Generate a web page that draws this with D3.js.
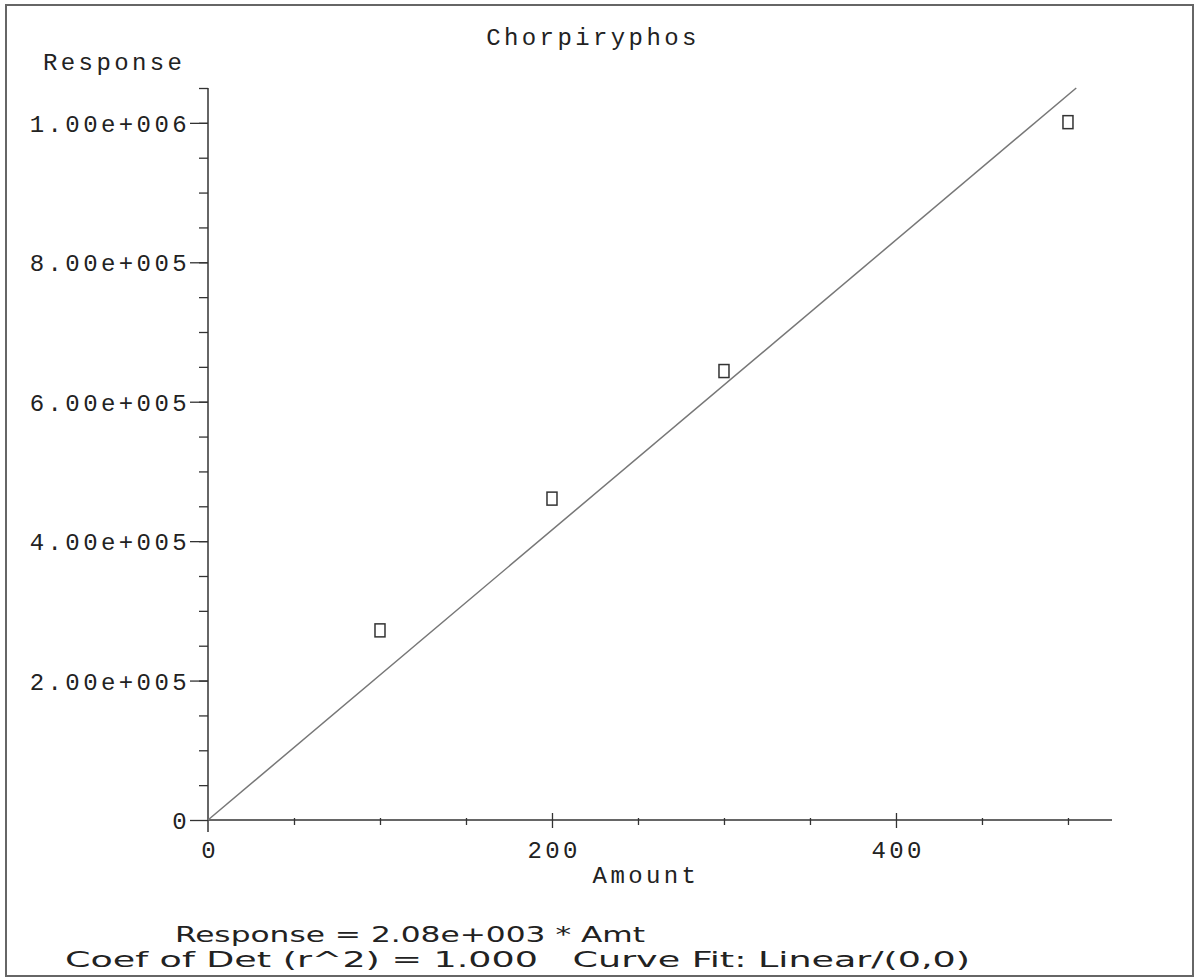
<!DOCTYPE html>
<html>
<head>
<meta charset="utf-8">
<script src="https://cdn.jsdelivr.net/npm/d3@7"></script>
<style>
  body { margin: 0; background: #fff; }
  .mono { font-family: "Liberation Mono", "Courier New", monospace; font-size: 24px; letter-spacing: 3.4px; fill: #222; }
  .note { font-family: "Liberation Sans Narrow", "DejaVu Sans Condensed", "Liberation Sans", sans-serif; font-stretch: condensed; font-size: 22px; fill: #222; }
</style>
</head>
<body>
<div id="root"></div>
<script>
var amounts = [100, 200, 300, 500];
var responses = [272000, 461000, 644000, 1001000];
var yMajor = [0, 200000, 400000, 600000, 800000, 1000000];
var yLabels = ["0", "2.00e+005", "4.00e+005", "6.00e+005", "8.00e+005", "1.00e+006"];
var yMinor = d3.range(50000, 1050001, 50000);
var xMajor = [0, 200, 400];
var xMinor = [50, 100, 150, 250, 300, 350, 450, 500];
var slope = 2080;
var yMax = 1050000, xMax = 525.6;

var w = 1197, h = 979;
var svg = d3.select("#root").append("svg").attr("width", w).attr("height", h);

// outer frame
svg.append("rect").attr("x", 6).attr("y", 5).attr("width", 1187).attr("height", 971)
  .attr("fill", "none").attr("stroke", "#666").attr("stroke-width", 2);

var x = d3.scaleLinear().domain([0, xMax]).range([208, 1112]);
var y = d3.scaleLinear().domain([0, yMax]).range([820, 88]);

// y axis: minor then major
svg.append("g").attr("transform", "translate(208,0)")
  .call(d3.axisLeft(y).tickValues(yMinor).tickSize(9).tickFormat(""))
  .call(function(g) { g.select(".domain").remove(); });
var yAxis = svg.append("g").attr("transform", "translate(208,0)")
  .call(d3.axisLeft(y).tickValues(yMajor).tickSize(18).tickPadding(0)
    .tickFormat(function(d, i) { return yLabels[i]; }));
yAxis.select(".domain").remove();
yAxis.selectAll("text").attr("class", "mono").attr("font-family", null).attr("font-size", null).attr("dy", "0.36em");
svg.append("line").attr("x1", 208).attr("x2", 208).attr("y1", y(yMax)).attr("y2", y(0) + 12)
  .attr("stroke", "#333").attr("stroke-width", 1.5);

// x axis
svg.append("g").attr("transform", "translate(0,820)")
  .call(d3.axisBottom(x).tickValues(xMinor).tickSize(5).tickFormat(""))
  .call(function(g) { g.select(".domain").remove(); g.selectAll("line").attr("y1", -2); });
var xAxis = svg.append("g").attr("transform", "translate(0,820)")
  .call(d3.axisBottom(x).tickValues(xMajor).tickSize(8));
xAxis.select(".domain").remove();
xAxis.selectAll("line").attr("y1", -7);
xAxis.selectAll(".tick").filter(function(d) { return d === 0; }).select("line").remove();
xAxis.selectAll("text").attr("class", "mono").attr("font-family", null).attr("font-size", null)
  .attr("y", 38).attr("dy", null).attr("dx", "1.7px");
svg.append("line").attr("x1", x(0)).attr("x2", x(xMax)).attr("y1", y(0)).attr("y2", y(0))
  .attr("stroke", "#333").attr("stroke-width", 1.5);
svg.selectAll(".tick line").attr("stroke", "#333").attr("stroke-width", 1.3);

// fit line through origin
svg.append("line").attr("x1", x(0)).attr("y1", y(0)).attr("x2", x(yMax / slope)).attr("y2", y(yMax))
  .attr("stroke", "#777").attr("stroke-width", 1.5);

// data points
svg.selectAll("rect.pt").data(amounts).enter().append("rect").attr("class", "pt")
  .attr("x", function(d) { return x(d) - 5; })
  .attr("y", function(d, i) { return y(responses[i]) - 6.5; })
  .attr("width", 10).attr("height", 13)
  .attr("fill", "none").attr("stroke", "#333").attr("stroke-width", 1.5);

// titles
svg.append("text").attr("class", "mono").attr("x", 593).attr("y", 45).attr("text-anchor", "middle").text("Chorpiryphos");
svg.append("text").attr("class", "mono").attr("x", 43).attr("y", 70).text("Response");
svg.append("text").attr("class", "mono").attr("x", 646).attr("y", 883).attr("text-anchor", "middle").text("Amount");

// fit notes
svg.append("text").attr("class", "note").attr("x", 175).attr("y", 942)
  .attr("textLength", 470).attr("lengthAdjust", "spacingAndGlyphs").text("Response = 2.08e+003 * Amt");
svg.append("text").attr("class", "note").attr("x", 65).attr("y", 967).attr("xml:space", "preserve")
  .attr("textLength", 905).attr("lengthAdjust", "spacingAndGlyphs").text("Coef of Det (r^2) = 1.000   Curve Fit: Linear/(0,0)");
</script>
</body>
</html>
